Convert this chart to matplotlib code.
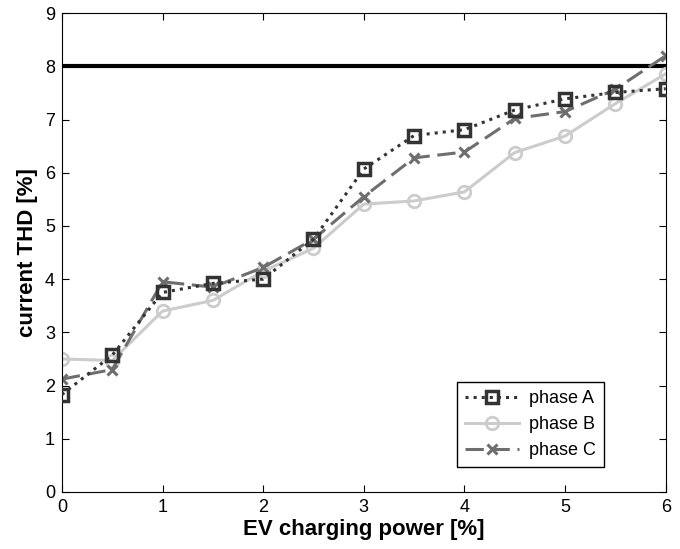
import matplotlib
matplotlib.use("Agg")
import matplotlib.pyplot as plt

power = [0, 0.5, 1, 1.5, 2, 2.5, 3, 3.5, 4, 4.5, 5, 5.5, 6]
phase_a = [1.83, 2.57, 3.75, 3.92, 4.0, 4.75, 6.07, 6.7, 6.81, 7.18, 7.39, 7.51, 7.58]
phase_b = [2.5, 2.47, 3.4, 3.6, 4.15, 4.58, 5.41, 5.47, 5.64, 6.38, 6.69, 7.3, 7.86]
phase_c = [2.12, 2.3, 3.95, 3.85, 4.22, 4.75, 5.55, 6.28, 6.39, 7.02, 7.15, 7.57, 8.2]
limit = 8

plt.rcParams['font.family'] = ['Liberation Sans', 'DejaVu Sans']

fig = plt.figure(figsize=(6.8, 5.49), dpi=100)
ax = fig.add_axes([0.091, 0.104, 0.888, 0.872])

ax.axhline(limit, color='black', lw=3, zorder=1)
ax.plot(power, phase_a, ls=':', color='#333333', lw=2.2, marker='s', ms=8,
        mfc='none', mew=2.5, label='phase A', zorder=3)
ax.plot(power, phase_b, ls='-', color='#cccccc', lw=2.2, marker='o', ms=9,
        mfc='none', mew=2, label='phase B', zorder=2)
ax.plot(power, phase_c, ls=(0, (6, 2.5)), color='#6e6e6e', lw=2.2, marker='x', ms=7,
        mew=2.2, label='phase C', zorder=2)

ax.set_xlim(0, 6)
ax.set_ylim(0, 9)
ax.set_xticks(range(7))
ax.set_yticks(range(10))
ax.tick_params(direction='in', top=True, right=True, labelsize=13, length=5, pad=5)
ax.set_xlabel('EV charging power [%]', fontsize=16, fontweight='bold', labelpad=2)
ax.set_ylabel('current THD [%]', fontsize=16, fontweight='bold', labelpad=5)

leg = ax.legend(loc='lower right', bbox_to_anchor=(0.897, 0.052), borderaxespad=0,
                fontsize=13, fancybox=False, edgecolor='black', framealpha=1,
                handlelength=3.0, handletextpad=0.5, borderpad=0.45,
                labelspacing=0.5)
leg.get_frame().set_linewidth(1)

fig.savefig('out.png', dpi=100)
